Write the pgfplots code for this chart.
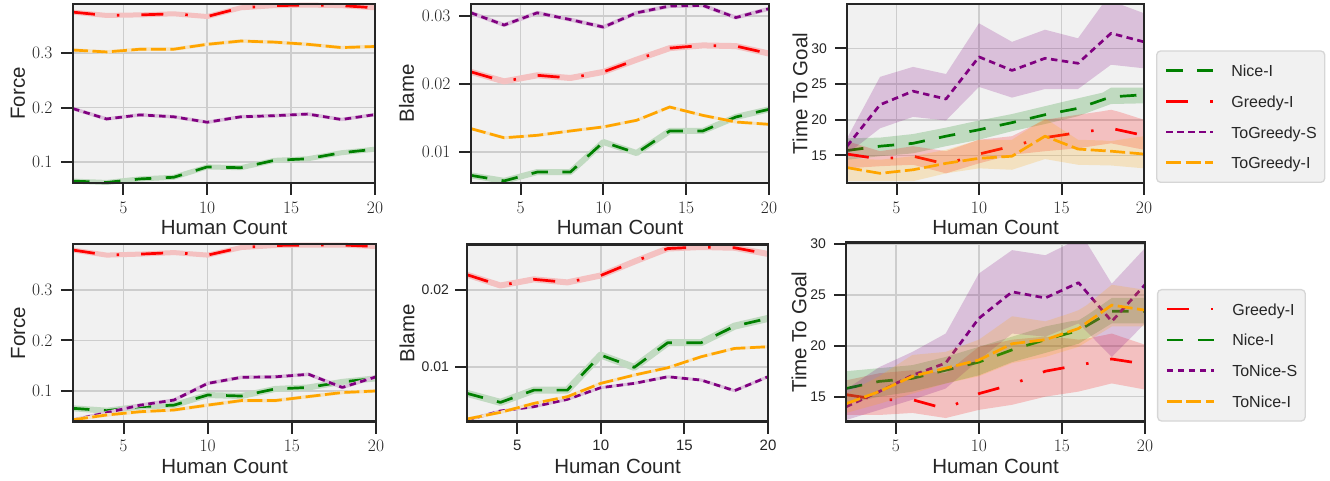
\documentclass[border=0pt]{standalone}
\usepackage{fontspec}
\setsansfont{Liberation Sans}
\usepackage{pgfplots}
\pgfplotsset{compat=1.18}
\usepackage{pgfplotstable}

\definecolor{bg}{RGB}{241,241,241}
\definecolor{gridc}{RGB}{205,205,205}
\definecolor{spine}{RGB}{38,38,38}
\definecolor{cg}{RGB}{0,128,0}
\definecolor{cr}{RGB}{255,0,0}
\definecolor{cp}{RGB}{128,0,128}
\definecolor{co}{RGB}{255,165,0}

\pgfplotstableread{
x r o p g
2 0.375 0.3055 0.198 0.065
4 0.369 0.302 0.179 0.0625
6 0.370 0.307 0.1865 0.069
8 0.372 0.307 0.183 0.072
10 0.367 0.316 0.173 0.091
12 0.383 0.322 0.183 0.0895
14 0.387 0.320 0.185 0.103
16 0.388 0.316 0.188 0.106
18 0.387 0.310 0.178 0.117
20 0.383 0.312 0.187 0.1235
}\tforceA

\pgfplotstableread{
x p r o g
2 0.0305 0.0218 0.01344 0.00656
4 0.0287 0.0204 0.0121 0.00575
6 0.0305 0.0213 0.01246 0.00705
8 0.0295 0.0209 0.0131 0.00705
10 0.0284 0.0218 0.0137 0.01147
12 0.0305 0.0236 0.01467 0.00985
14 0.0315 0.0253 0.01663 0.0131
16 0.0316 0.0257 0.0154 0.0131
18 0.0298 0.0256 0.01442 0.01516
20 0.0311 0.0245 0.01408 0.01629
}\tblameA

\pgfplotstableread{
x g r p o
2 15.7 15.2 16.3 13.3
4 16.3 14.5 22.1 12.5
6 16.7 14.9 24.0 13.0
8 17.7 13.8 22.9 13.9
10 18.6 15.2 28.8 14.6
12 19.6 16.3 26.9 14.9
14 20.7 17.5 28.6 17.7
16 21.6 18.2 27.9 15.9
18 23.2 18.8 32.1 15.6
20 23.5 17.8 30.9 15.2
}\ttimeA
\pgfplotstableread{
x g r p o
2 17.4 17.0 17.4 14.6
4 17.5 15.6 26.0 14.4
6 18.0 16.3 27.4 14.9
8 18.9 15.6 26.4 15.8
10 19.9 17.2 33.5 17.2
12 20.8 17.7 30.9 17.2
14 21.9 20.0 32.6 20.2
16 23.0 20.7 31.4 17.2
17.5 23.8 21.2 36.2 17.1
18 24.5 21.4 36.2 17.0
18.5 24.5 21.1 36.2 17.2
20 24.5 20.0 34.9 17.7
20 22.3 15.8 27.2 13.2
18 22.2 16.7 27.7 13.6
16 20.5 16.0 24.3 13.7
14 19.4 15.6 24.3 14.5
12 18.4 15.1 23.1 13.0
10 17.2 13.9 24.6 13.2
8 16.3 12.5 19.9 12.5
6 15.3 13.7 20.4 11.4
4 14.9 13.5 18.8 11.4
2 14.4 13.2 15.2 11.4
}\tbandA

\pgfplotstableread{
x r g p o
2 0.379 0.0657 0.0426 0.043
4 0.369 0.061 0.057 0.0525
6 0.371 0.069 0.072 0.059
8 0.374 0.072 0.082 0.0624
10 0.369 0.092 0.115 0.072
12 0.384 0.090 0.127 0.081
14 0.388 0.104 0.128 0.081
16 0.389 0.107 0.133 0.089
18 0.389 0.118 0.107 0.097
20 0.386 0.125 0.128 0.100
}\tforceB

\pgfplotstableread{
x r g p o
2 0.0220 0.00658 0.0031 0.00325
4 0.0206 0.00541 0.00429 0.00411
6 0.0214 0.0070 0.00485 0.00528
8 0.0210 0.0070 0.0058 0.00615
10 0.0219 0.01156 0.00732 0.00788
12 0.0237 0.00996 0.00788 0.00896
14 0.0254 0.01316 0.00874 0.00991
16 0.0256 0.01316 0.00831 0.01134
18 0.0255 0.01532 0.00693 0.01242
20 0.0247 0.01632 0.00874 0.01264
}\tblameB

\pgfplotstableread{
x r g p o
2 15.2 15.8 14.0 14.3
4 14.7 16.5 15.5 15.5
6 14.7 16.8 17.1 17.0
8 13.8 17.6 18.3 17.8
10 15.3 18.4 22.7 18.6
12 16.2 19.6 25.3 20.2
14 17.5 20.6 24.7 20.6
16 18.1 21.5 26.2 21.7
18 18.7 23.4 22.4 24.0
20 18.2 23.4 26.0 23.5
}\ttimeB
\pgfplotstableread{
x r g p o
2 16.6 17.5 15.7 15.3
4 17.3 17.8 17.9 17.0
6 17.6 18.1 19.4 19.1
8 17.3 18.9 21.2 19.4
10 19.9 19.9 27.1 20.6
12 20.6 20.9 29.4 22.9
14 20.9 21.9 28.9 22.4
15.5 20.7 22.4 30.1 23.2
16 20.6 22.5 30.1 23.5
16.5 20.7 23.0 30.1 24.0
18 21.2 24.7 26.1 26.0
20 20.1 24.7 29.6 25.5
20 15.7 22.2 22.2 21.9
18 16.3 22.2 18.9 21.9
16 15.5 20.2 22.2 19.9
14 15.0 19.3 20.9 18.9
12 14.2 18.4 21.2 18.3
10 13.7 17.1 18.6 17.0
8 12.9 16.3 15.8 16.3
6 13.4 15.5 14.7 15.3
4 13.2 15.0 13.7 14.3
2 13.2 14.3 12.7 13.4
}\tbandB

\pgfplotsset{
  layers/mylayers/.define layer set={axis background,axis grid,pre main,main,axis ticks,axis lines,axis tick labels,axis descriptions,axis foreground}{
    grid style={/pgfplots/on layer=axis grid},
    tick style={/pgfplots/on layer=axis ticks},
    axis line style={/pgfplots/on layer=axis lines},
    label style={/pgfplots/on layer=axis descriptions},
    legend style={/pgfplots/on layer=axis descriptions},
    title style={/pgfplots/on layer=axis descriptions},
    colorbar style={/pgfplots/on layer=axis descriptions},
    ticklabel style={/pgfplots/on layer=axis tick labels},
    axis background@ style={/pgfplots/on layer=axis background},
    3d box foreground style={/pgfplots/on layer=axis foreground},
  },
}

\pgfplotsset{
  set layers=mylayers,
  clip=false,
  scale only axis,
  xmin=2, xmax=20, xtick={5,10,15,20}, xticklabels={5,10,15,20},
  no markers,
  axis background/.style={fill=bg},
  grid=major,
  grid style={line width=1.5pt, draw=gridc},
  axis line style={line width=2.5pt, draw=spine},
  tick style={line width=2pt, draw=spine},
  major tick length=12pt,
  tick align=outside, tick pos=left,
  scaled ticks=false,
  xlabel={Human Count},
  xlabel style={at={(axis description cs:0.5,0)}, anchor=base, yshift=-52pt, font=\fontsize{20.5}{20.5}\sffamily, text=spine},
  serifx/.style={xticklabel style={font=\fontsize{17.5}{17.5}\rmfamily, text=spine, yshift=-3pt}},
  sansx/.style={xticklabel style={font=\fontsize{15}{15}\sffamily, text=spine, yshift=-3pt}},
  serify/.style={yticklabel style={font=\fontsize{17.5}{17.5}\rmfamily, text=spine, xshift=-5pt}},
  sansy/.style={yticklabel style={font=\fontsize{14}{14}\sffamily, text=spine, xshift=#1}},
  yl/.style={ylabel style={at={(axis description cs:#1,0.5)}, anchor=center, font=\fontsize{20.5}{20.5}\sffamily, text=spine}},
  sg/.style={cg, line width=2.7pt, line join=round, dash pattern=on 16.5pt off 14.5pt},
  sr/.style={cr, line width=2.7pt, line join=round, dash pattern=on 22pt off 22pt on 2.5pt off 22pt},
  sp/.style={cp, line width=2.7pt, line join=round, dash pattern=on 6.5pt off 4.5pt},
  so/.style={co, line width=2.7pt, line join=round, dash pattern=on 15pt off 4.5pt},
  leg/.style={
    legend image code/.code={\draw[##1, line width=2.7pt] (0pt,0pt) -- (47pt,0pt);},
    legend cell align=left,
    legend style={at={(axis description cs:#1,0)}, anchor=south west,
      fill=bg, draw=black!16, line width=1.3pt, rounded corners=4pt,
      inner xsep=8pt, inner ysep=13.5pt, row sep=18.8pt,
      font=\fontsize{16}{16}\sffamily, text=spine,
      nodes={inner sep=0pt, text height=12pt, text depth=0pt},
      /tikz/every odd column/.append style={column sep=17pt}},
  },
}

\newcommand{\lineband}[5]{%
  \addplot[#4!20!bg, line width=#5, forget plot, line join=round] table[x=x,y=#2]{#1};
  \addplot[#3] table[x=x,y=#2]{#1};
}
\newcommand{\ttg}[5]{%
  \addplot[fill=#4, fill opacity=0.2, draw=none, forget plot] table[x=x,y=#2]{#5} -- cycle;
  \addplot[#3] table[x=x,y=#2]{#1};
}

\begin{document}
\begin{tikzpicture}
\path (0pt,0pt) rectangle (1330pt,481pt);

\begin{axis}[serifx, serify, at={(73pt,298pt)}, anchor=south west,
  width=302pt, height=179pt, ymin=0.0615, ymax=0.390,
  ytick={0.1,0.2,0.3}, yticklabels={0.1,0.2,0.3},
  ylabel={Force}, yl=-0.182]
  \lineband{\tforceA}{g}{sg}{cg}{5pt}
  \lineband{\tforceA}{r}{sr}{cr}{5pt}
  \lineband{\tforceA}{p}{sp}{cp}{3.5pt}
  \lineband{\tforceA}{o}{so}{co}{3.5pt}
\end{axis}

\begin{axis}[serifx, serify, at={(471pt,298pt)}, anchor=south west,
  width=298pt, height=179pt, ymin=0.00544, ymax=0.0318,
  ytick={0.01,0.02,0.03}, yticklabels={0.01,0.02,0.03},
  ylabel={Blame}, yl=-0.216]
  \lineband{\tblameA}{g}{sg}{cg}{6pt}
  \lineband{\tblameA}{r}{sr}{cr}{6pt}
  \lineband{\tblameA}{p}{sp}{cp}{4pt}
  \lineband{\tblameA}{o}{so}{co}{3pt}
\end{axis}

\begin{axis}[serifx, sansy=-4.5pt, at={(847pt,298pt)}, anchor=south west,
  width=297pt, height=179pt, ymin=11.15, ymax=36.2,
  ytick={15,20,25,30}, yticklabels={15,20,25,30},
  ylabel={Time To Goal}, yl=-0.158, leg=1.0404]
  \ttg{\ttimeA}{g}{sg}{cg}{\tbandA}
  \ttg{\ttimeA}{r}{sr}{cr}{\tbandA}
  \ttg{\ttimeA}{p}{sp}{cp}{\tbandA}
  \ttg{\ttimeA}{o}{so}{co}{\tbandA}
  \legend{Nice-I,Greedy-I,ToGreedy-S,ToGreedy-I}
\end{axis}

\begin{axis}[serifx, serify, at={(73pt,59.3pt)}, anchor=south west,
  width=303pt, height=177.7pt, ymin=0.0392, ymax=0.391,
  ytick={0.1,0.2,0.3}, yticklabels={0.1,0.2,0.3},
  ylabel={Force}, yl=-0.181]
  \lineband{\tforceB}{r}{sr}{cr}{5pt}
  \lineband{\tforceB}{g}{sg}{cg}{6pt}
  \lineband{\tforceB}{p}{sp}{cp}{3.5pt}
  \lineband{\tforceB}{o}{so}{co}{3.5pt}
\end{axis}

\begin{axis}[sansx, sansy=-2.5pt, at={(467pt,59.3pt)}, anchor=south west,
  width=301pt, height=177pt, ymin=0.0029, ymax=0.0259,
  ytick={0.01,0.02}, yticklabels={0.01,0.02},
  ylabel={Blame}, yl=-0.199]
  \lineband{\tblameB}{r}{sr}{cr}{6pt}
  \lineband{\tblameB}{g}{sg}{cg}{7pt}
  \lineband{\tblameB}{p}{sp}{cp}{3pt}
  \lineband{\tblameB}{o}{so}{co}{3pt}
\end{axis}

\begin{axis}[serifx, sansy=-4.5pt, at={(846pt,59.3pt)}, anchor=south west,
  width=299pt, height=179pt, ymin=12.54, ymax=30.13,
  ytick={15,20,25,30}, yticklabels={15,20,25,30},
  ylabel={Time To Goal}, yl=-0.157, leg=1.040]
  \ttg{\ttimeB}{r}{sr}{cr}{\tbandB}
  \ttg{\ttimeB}{g}{sg}{cg}{\tbandB}
  \ttg{\ttimeB}{p}{sp}{cp}{\tbandB}
  \ttg{\ttimeB}{o}{so}{co}{\tbandB}
  \legend{Greedy-I,Nice-I,ToNice-S,ToNice-I}
\end{axis}
\end{tikzpicture}
\end{document}
